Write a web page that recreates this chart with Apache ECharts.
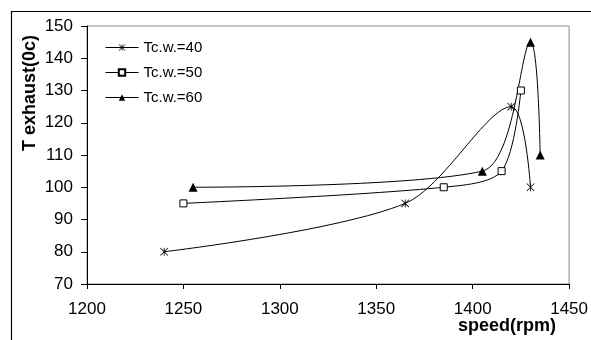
<!DOCTYPE html>
<html><head><meta charset="utf-8">
<script src="https://cdn.jsdelivr.net/npm/echarts@6/dist/echarts.min.js"></script>
<style>html,body{margin:0;padding:0;background:#fff}#c{width:591px;height:340px}</style>
</head><body><div id="c"></div>
<script>
const seriesNames = ['Tc.w.=40', 'Tc.w.=50', 'Tc.w.=60'];
const speed40 = [1240, 1365, 1420, 1430];
const temp40  = [80, 95, 125, 100];
const speed50 = [1250, 1385, 1415, 1425];
const temp50  = [95, 100, 105, 130];
const speed60 = [1255, 1405, 1430, 1435];
const temp60  = [100, 105, 145, 110];
const xTicks = [1200, 1250, 1300, 1350, 1400, 1450];
const yTicks = [70, 80, 90, 100, 110, 120, 130, 140, 150];

const FONT = 'Liberation Sans, Arial, sans-serif';
const star = 'path://M4.5 0L5.5 0L5.5 10L4.5 10Z M0 0.7L0.7 0L10 9.3L9.3 10Z M9.3 0L10 0.7L0.7 10L0 9.3Z';
const zip = (a, b) => a.map((v, i) => [v, b[i]]);

const chart = echarts.init(document.getElementById('c'), null, {renderer: 'canvas'});
const mk = (name, xs, ys, symbol, size, fill) => ({
  name, type: 'line', data: zip(xs, ys), smooth: 0.3,
  symbol, symbolSize: size, showSymbol: true,
  lineStyle: {color: '#000', width: 1},
  itemStyle: {color: fill, borderColor: '#000', borderWidth: symbol === 'rect' ? 1 : 0},
  z: 3
});
chart.setOption({
  animation: false,
  backgroundColor: '#fff',
  grid: {left: 87, top: 26, right: 16, bottom: 56, show: true, borderColor: '#8a8a8a', borderWidth: 1, backgroundColor: 'transparent'},
  xAxis: {
    type: 'value', min: xTicks[0], max: xTicks[xTicks.length - 1], interval: 50,
    axisLine: {show: true, onZero: false, lineStyle: {color: '#000', width: 1}},
    axisTick: {show: true, inside: false, length: 5, lineStyle: {color: '#000'}},
    axisLabel: {color: '#000', fontFamily: FONT, fontSize: 17, margin: 17, formatter: v => String(v)},
    splitLine: {show: false}
  },
  yAxis: {
    type: 'value', min: yTicks[0], max: yTicks[yTicks.length - 1], interval: 10,
    axisLine: {show: true, onZero: false, lineStyle: {color: '#000', width: 1}},
    axisTick: {show: true, inside: false, length: 6, lineStyle: {color: '#000'}},
    axisLabel: {color: '#000', fontFamily: FONT, fontSize: 17, margin: 14, formatter: v => String(v)},
    splitLine: {show: false}
  },
  legend: {
    orient: 'vertical', left: 100, top: 35, itemWidth: 33, itemHeight: 8, itemGap: 10,
    data: seriesNames,
    textStyle: {color: '#000', fontFamily: FONT, fontSize: 15},
    lineStyle: {color: '#000', width: 1}
  },
  graphic: [
    {type: 'rect', shape: {x: 11.5, y: 11.5, width: 700, height: 500}, style: {fill: 'none', stroke: '#000', lineWidth: 1.2}, z: 1, silent: true},
    {type: 'text', x: 30, y: 93, rotation: Math.PI / 2, style: {text: 'T exhaust(0c)', fill: '#000', font: 'bold 18px ' + FONT, textAlign: 'center', textVerticalAlign: 'middle'}},
    {type: 'text', x: 507, y: 326, style: {text: 'speed(rpm)', fill: '#000', font: 'bold 18px ' + FONT, textAlign: 'center', textVerticalAlign: 'middle'}}
  ],
  series: [
    mk(seriesNames[0], speed40, temp40, star, 8, '#000'),
    mk(seriesNames[1], speed50, temp50, 'rect', 7, '#fff'),
    mk(seriesNames[2], speed60, temp60, 'triangle', 9, '#000')
  ]
});
</script></body></html>
